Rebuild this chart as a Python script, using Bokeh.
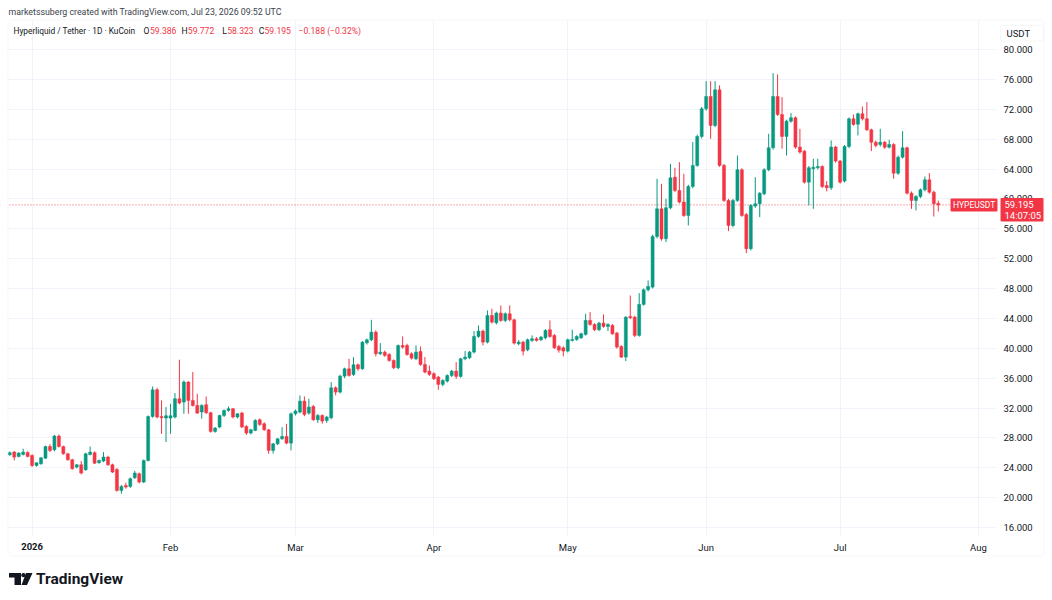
from bokeh.plotting import figure
from bokeh.models import (Range1d, FixedTicker, NumeralTickFormatter, Label, Span,
                          ColumnDataSource, BoxAnnotation, PolyAnnotation)
from bokeh.embed import file_html
from bokeh.resources import INLINE
import pandas as pd

# ---------------- data (HYPE/USDT daily) ----------------
start_date = "2025-12-27"
opens = [25.74, 26.10, 25.52, 25.78, 26.05, 25.65, 24.31, 24.54, 25.29, 26.85,
         26.41, 28.24, 26.85, 25.87, 25.07, 24.09, 24.40, 23.73, 25.78, 26.01,
         24.67, 24.89, 25.43, 24.40, 23.78, 20.96, 21.63, 21.50, 22.66, 23.20,
         22.08, 24.98, 30.87, 34.44, 30.85, 30.65, 30.65, 30.79, 33.24, 32.79,
         35.47, 33.02, 32.35, 31.46, 32.44, 31.37, 28.87, 29.45, 31.01, 31.68,
         31.90, 30.79, 31.32, 29.54, 28.64, 29.00, 30.43, 29.89, 29.08, 26.32,
         27.21, 27.88, 28.19, 27.30, 31.23, 31.45, 32.92, 31.32, 32.21, 30.42,
         31.00, 30.34, 30.69, 34.71, 34.13, 36.27, 37.25, 36.49, 37.79, 37.25,
         40.73, 41.13, 42.16, 39.26, 39.48, 39.17, 38.37, 37.39, 40.37, 40.38,
         39.26, 38.59, 39.57, 37.83, 36.94, 36.59, 36.14, 35.16, 35.60, 36.36,
         36.94, 36.23, 38.59, 38.73, 39.49, 41.58, 42.30, 40.82, 44.39, 43.41,
         44.71, 43.72, 44.62, 43.81, 40.60, 40.82, 39.80, 41.05, 41.27, 41.14,
         41.40, 42.48, 41.72, 40.24, 40.07, 39.62, 41.05, 41.18, 41.40, 41.85,
         43.73, 43.19, 42.48, 43.37, 42.92, 43.06, 42.03, 40.24, 38.82, 44.26,
         44.17, 41.72, 45.87, 47.83, 48.19, 54.97, 58.67, 54.66, 58.81, 62.91,
         61.13, 59.57, 57.78, 61.66, 64.48, 68.36, 72.06, 73.71, 69.83, 74.60,
         64.48, 59.79, 56.44, 59.79, 63.89, 57.90, 53.32, 59.03, 59.34, 60.68,
         63.89, 66.84, 73.71, 71.30, 68.36, 70.41, 70.86, 66.93, 66.39, 62.24,
         64.03, 64.16, 64.34, 61.80, 61.49, 66.93, 65.06, 62.38, 67.02, 70.72,
         70.00, 71.39, 70.72, 69.24, 67.59, 67.28, 67.59, 66.92, 67.28, 63.44,
         65.59, 66.84, 60.77, 59.79, 60.32, 61.21, 62.55, 60.90, 59.386]
highs = [26.19, 26.25, 26.10, 26.54, 26.20, 25.80, 24.70, 25.40, 26.95, 27.15,
         28.40, 28.46, 26.95, 26.00, 25.20, 24.50, 24.90, 26.00, 26.85, 26.20,
         25.10, 26.10, 25.60, 24.55, 23.95, 21.70, 22.00, 22.70, 23.60, 23.35,
         25.10, 31.00, 34.89, 34.70, 33.02, 32.12, 32.57, 34.00, 38.46, 35.70,
         35.60, 36.81, 33.91, 32.50, 33.55, 31.50, 29.45, 31.10, 31.80, 32.21,
         32.00, 31.30, 31.50, 29.70, 29.20, 30.50, 30.60, 30.10, 29.20, 27.30,
         27.95, 29.44, 29.89, 31.40, 31.80, 33.68, 33.55, 33.24, 32.40, 31.20,
         31.15, 30.95, 35.47, 34.90, 36.45, 37.40, 38.59, 38.81, 37.95, 40.95,
         41.30, 43.81, 42.40, 40.69, 39.70, 39.35, 38.50, 40.50, 41.58, 40.60,
         39.45, 40.38, 40.24, 38.82, 37.70, 36.80, 36.30, 35.85, 36.50, 37.10,
         38.15, 38.70, 39.62, 39.65, 42.30, 43.05, 42.50, 45.06, 45.29, 44.90,
         45.73, 44.80, 45.73, 43.95, 41.10, 41.00, 41.30, 41.72, 41.50, 41.65,
         42.55, 43.73, 41.90, 40.45, 40.25, 41.30, 42.48, 41.75, 42.10, 44.62,
         44.84, 43.35, 43.55, 44.53, 43.35, 43.25, 42.20, 40.40, 44.30, 47.07,
         44.35, 47.38, 48.00, 49.08, 55.20, 62.69, 62.02, 60.01, 64.70, 64.16,
         64.92, 63.36, 61.90, 67.60, 68.60, 72.30, 75.76, 75.76, 75.76, 75.20,
         64.70, 60.00, 60.00, 65.81, 64.10, 58.10, 59.30, 62.91, 60.90, 64.10,
         68.71, 76.83, 76.66, 73.62, 70.60, 71.48, 71.05, 69.38, 66.55, 64.40,
         65.37, 65.37, 64.50, 62.38, 67.82, 67.10, 65.20, 67.20, 70.90, 71.30,
         71.55, 72.37, 72.95, 69.40, 67.80, 69.38, 67.75, 67.91, 67.45, 65.80,
         69.07, 67.00, 61.00, 60.50, 61.40, 63.00, 63.44, 61.10, 59.772]
lows = [25.61, 24.98, 25.40, 25.65, 25.40, 24.10, 24.15, 24.40, 25.20, 26.10,
        26.20, 26.70, 25.75, 24.95, 23.75, 23.90, 23.10, 23.60, 25.65, 24.50,
        24.55, 24.75, 24.25, 23.30, 20.80, 20.52, 21.20, 21.30, 22.50, 21.90,
        21.95, 24.85, 30.70, 30.60, 28.55, 27.44, 28.55, 30.60, 32.50, 31.23,
        31.23, 32.20, 31.20, 30.56, 31.20, 28.70, 28.70, 29.30, 30.80, 31.50,
        30.60, 30.60, 29.30, 28.40, 28.45, 28.90, 29.60, 28.95, 25.87, 25.90,
        27.05, 27.75, 27.15, 26.32, 31.00, 31.30, 30.90, 31.10, 30.30, 30.00,
        29.90, 30.00, 30.50, 33.70, 33.95, 36.00, 36.20, 36.30, 37.00, 37.10,
        40.50, 40.95, 38.90, 39.10, 38.85, 38.20, 37.20, 37.20, 39.95, 39.00,
        38.50, 38.40, 37.65, 36.65, 36.30, 35.75, 34.44, 34.90, 35.40, 36.15,
        35.90, 36.05, 38.40, 38.55, 39.30, 41.40, 40.38, 40.65, 43.30, 43.20,
        43.55, 43.50, 43.60, 40.50, 40.40, 39.04, 39.60, 40.85, 40.90, 40.95,
        41.20, 41.40, 39.90, 39.40, 38.91, 39.45, 40.90, 41.00, 41.25, 41.70,
        43.00, 42.30, 42.30, 42.75, 42.30, 41.80, 39.95, 38.70, 38.28, 43.90,
        41.50, 41.55, 45.70, 47.60, 48.00, 54.70, 54.40, 54.21, 58.60, 60.90,
        59.40, 57.60, 56.44, 61.40, 64.30, 68.10, 71.80, 68.04, 69.60, 64.30,
        59.60, 55.68, 56.20, 59.60, 57.60, 52.74, 53.10, 58.80, 57.56, 60.50,
        63.70, 66.60, 71.10, 66.71, 65.81, 70.20, 66.70, 66.05, 62.05, 59.12,
        58.67, 63.95, 61.45, 61.00, 61.20, 64.85, 62.05, 62.20, 66.80, 69.80,
        68.49, 70.50, 69.10, 66.39, 66.90, 67.00, 66.70, 66.75, 62.69, 63.20,
        65.40, 60.60, 58.67, 58.45, 60.10, 61.00, 60.70, 57.64, 58.323]
closes = [26.01, 25.43, 25.96, 26.10, 25.52, 24.31, 24.67, 25.34, 26.85, 26.32,
          28.24, 26.85, 25.87, 25.07, 23.87, 24.40, 23.29, 25.87, 26.10, 24.62,
          24.98, 25.43, 24.40, 23.42, 20.96, 21.50, 21.41, 22.53, 23.29, 22.08,
          24.98, 30.87, 34.44, 30.79, 30.70, 30.96, 30.96, 33.24, 32.66, 35.47,
          33.02, 32.35, 31.32, 32.35, 31.37, 28.87, 29.31, 31.01, 31.68, 31.90,
          30.79, 31.23, 29.45, 28.64, 29.09, 30.34, 29.80, 29.08, 26.32, 27.21,
          27.88, 28.19, 27.30, 31.23, 31.59, 32.92, 31.14, 32.12, 30.42, 31.00,
          30.25, 30.78, 34.71, 34.13, 36.27, 37.25, 36.36, 37.79, 37.25, 40.82,
          41.13, 42.16, 39.26, 39.48, 39.04, 38.37, 37.39, 40.37, 40.15, 39.17,
          38.68, 39.49, 37.83, 36.81, 36.50, 35.92, 35.16, 35.69, 36.36, 36.94,
          36.23, 38.59, 38.82, 39.49, 41.58, 42.30, 40.82, 44.39, 43.50, 44.71,
          43.72, 44.62, 43.81, 40.69, 40.82, 39.62, 41.14, 41.27, 41.05, 41.49,
          42.39, 41.58, 40.07, 39.75, 39.62, 41.14, 41.18, 41.58, 41.94, 43.73,
          43.19, 42.48, 43.37, 42.92, 43.19, 41.94, 40.16, 38.82, 44.17, 44.08,
          41.72, 45.87, 47.83, 48.28, 54.97, 58.67, 54.66, 58.81, 62.82, 61.13,
          59.57, 57.78, 61.66, 64.48, 68.36, 72.06, 73.71, 69.83, 74.60, 64.48,
          59.79, 56.44, 59.79, 63.89, 57.78, 53.32, 59.12, 59.34, 60.77, 63.89,
          66.84, 73.71, 71.30, 68.36, 70.41, 70.86, 66.93, 66.26, 62.24, 64.16,
          64.25, 64.34, 61.66, 61.49, 66.93, 65.06, 62.24, 67.02, 70.72, 69.96,
          71.39, 70.72, 69.24, 67.59, 67.15, 67.59, 66.92, 67.28, 63.44, 65.59,
          66.84, 60.77, 59.79, 60.32, 61.21, 62.55, 60.90, 59.34, 59.195]

month_tick_days = [0, 31, 59, 90, 120, 151, 181, 212]
month_tick_labels = ["2026", "Feb", "Mar", "Apr", "May", "Jun", "Jul", "Aug"]
price_ticks = [16, 20, 24, 28, 32, 36, 40, 44, 48, 52, 56, 60, 64, 68, 72, 76, 80]

symbol_tag = "HYPEUSDT"
last_price_text = "59.195"
countdown_text = "14:07:05"
currency_text = "USDT"
header_line1 = "marketssuberg created with TradingView.com, Jul 23, 2026 09:52 UTC"
header_symbol = "Hyperliquid / Tether \u00b7 1D \u00b7 KuCoin"
ohlc_letters = ["O", "H", "L", "C"]
ohlc_values = ["59.386", "59.772", "58.323", "59.195"]
change_text = "\u22120.188 (\u22120.32%)"
brand_text = "TradingView"

# ---------------- build ----------------
n = min(len(opens), len(highs), len(lows), len(closes))
dates = pd.date_range(start_date, periods=n, freq="D")
xs = [(d - pd.Timestamp("2026-01-01")).days for d in dates]
last_price = closes[n - 1]

UP = "#089981"
DOWN = "#F23645"
TXT = "#131722"
GRID = "#f0f3fa"
FONT = "Roboto"

W, H = 1052, 600
PX_PER_DAY = 4.464
X0 = -31.6 / PX_PER_DAY          # day at the left edge of the canvas
PX_PER_USD = 7.469
Y_TOP = 80 + 49 / PX_PER_USD     # price at the top edge of the canvas


def dx(px):
    return X0 + px / PX_PER_DAY


def dy(py):
    return Y_TOP - py / PX_PER_USD


colors = [UP if closes[i] >= opens[i] else DOWN for i in range(n)]
src = ColumnDataSource(dict(
    x=xs,
    top=[max(opens[i], closes[i]) for i in range(n)],
    bottom=[min(opens[i], closes[i]) for i in range(n)],
    high=highs[:n], low=lows[:n], color=colors,
))

p = figure(width=W, height=H, output_backend="svg", toolbar_location=None,
           x_range=Range1d(dx(0), dx(W)), y_range=Range1d(dy(H), dy(0)),
           y_axis_location="right",
           min_border_left=0, min_border_right=0, min_border_top=0, min_border_bottom=0)
p.outline_line_color = None
p.background_fill_color = "white"
p.border_fill_color = "white"

# grids
p.xgrid.ticker = FixedTicker(ticks=month_tick_days)
p.ygrid.ticker = FixedTicker(ticks=price_ticks)
p.xgrid.grid_line_color = GRID
p.ygrid.grid_line_color = GRID

# axes (labels drawn over the chart's own axis strips)
p.xaxis.ticker = FixedTicker(ticks=month_tick_days)
overrides = {d: lab for d, lab in zip(month_tick_days, month_tick_labels)}
overrides[month_tick_days[0]] = ""
p.xaxis.major_label_overrides = overrides
p.yaxis.ticker = FixedTicker(ticks=price_ticks)
p.yaxis.formatter = NumeralTickFormatter(format="0.000")
for ax in (p.xaxis[0], p.yaxis[0]):
    ax.axis_line_color = None
    ax.major_tick_line_color = None
    ax.minor_tick_line_color = None
    ax.major_tick_out = 0
    ax.major_tick_in = 0
    ax.major_label_text_font = FONT
    ax.major_label_text_font_size = "9.5px"
    ax.major_label_text_color = TXT
p.xaxis.major_label_standoff = 541 - H
p.yaxis.major_label_standoff = 1003 - W

# last price dotted line (under the masks, so it stops at the pane edge)
p.add_layout(Span(location=last_price, dimension="width", line_color=DOWN, line_alpha=0.85,
                  line_dash="1 2", line_width=1, level="underlay"))

# white masks: keep grid lines inside the price pane only
PANE_L, PANE_R, PANE_T, PANE_B = 8, 995, 20, 535
for (l, r, t, b) in [(0, PANE_L, 0, H), (PANE_R, W, 0, H), (0, W, 0, PANE_T), (0, W, PANE_B, H)]:
    p.add_layout(BoxAnnotation(left=dx(l), right=dx(r), top=dy(t), bottom=dy(b),
                               fill_color="white", fill_alpha=1, line_color=None, level="underlay"))

# chart border
p.add_layout(BoxAnnotation(left=dx(7.5), right=dx(1043.5), top=dy(19.5), bottom=dy(555.5),
                           fill_alpha=0, line_color="#e0e3eb", line_width=1, border_radius=4))

# candles
p.segment(x0="x", y0="low", x1="x", y1="high", line_color="color", line_width=1, source=src)
p.vbar(x="x", width=0.68, top="top", bottom="bottom", fill_color="color", line_color="color",
       line_width=0.5, source=src)


def lab(px, py, text, color=TXT, size="8.8px", style="normal", align="left", x=None):
    p.add_layout(Label(x=dx(px) if x is None else x, y=dy(py), text=text, text_color=color,
                       text_font=FONT, text_font_size=size, text_font_style=style,
                       text_baseline="middle", text_align=align))


# header
lab(8, 11, header_line1, color="#3b3f4b")
lab(13, 30, header_symbol, size="8.3px")
letter_px = [143, 181, 221.7, 258.3]
value_px = [149.5, 187.3, 226.7, 264]
for lx, vx, L, V in zip(letter_px, value_px, ohlc_letters, ohlc_values):
    lab(lx, 30, L, size="8.6px")
    lab(vx, 30, V, color=DOWN, size="8.6px")
lab(298, 30, change_text, color=DOWN, size="8.6px")

# bold year label under the first month tick
lab(0, 546, month_tick_labels[0], size="9.5px", style="bold", align="center", x=month_tick_days[0])

# symbol tag on the last price line
p.add_layout(BoxAnnotation(left=dx(950), right=dx(997), top=dy(198), bottom=dy(211),
                           fill_color=DOWN, fill_alpha=1, line_color=None, border_radius=1))
lab(952.5, 204.5, symbol_tag, color="white", size="8.5px")

# price tag on the price axis
p.add_layout(BoxAnnotation(left=dx(1000), right=dx(1043), top=dy(197.5), bottom=dy(221),
                           fill_color=DOWN, fill_alpha=1, line_color=None, border_radius=1))
lab(1004, 204, last_price_text, color="white", size="9.5px")
lab(1004, 214.5, countdown_text, color="white", size="9.5px")

# currency box
p.add_layout(BoxAnnotation(left=dx(1000), right=dx(1043), top=dy(25), bottom=dy(40.5),
                           fill_color="white", fill_alpha=1, line_color="#e0e3eb", border_radius=2))
lab(1006, 32.7, currency_text, size="9.5px")

# TradingView brand mark and name
BRAND = "#131722"
p.add_layout(BoxAnnotation(left=dx(8.5), right=dx(20.5), top=dy(572.5), bottom=dy(577),
                           fill_color=BRAND, fill_alpha=1, line_color=None))
p.add_layout(BoxAnnotation(left=dx(14), right=dx(20.5), top=dy(572.5), bottom=dy(584.5),
                           fill_color=BRAND, fill_alpha=1, line_color=None))
p.add_layout(BoxAnnotation(left=dx(20.8), right=dx(25), top=dy(572.5), bottom=dy(576.7),
                           fill_color=BRAND, fill_alpha=1, line_color=None, border_radius=2))
p.add_layout(PolyAnnotation(xs=[dx(25.5), dx(32), dx(26.5), dx(21)],
                            ys=[dy(572.5), dy(572.5), dy(584.5), dy(584.5)],
                            fill_color=BRAND, fill_alpha=1, line_color=None))
lab(35.5, 578.5, brand_text, color=BRAND, size="15.5px", style="bold")

open("out.html", "w").write(file_html(p, INLINE))
